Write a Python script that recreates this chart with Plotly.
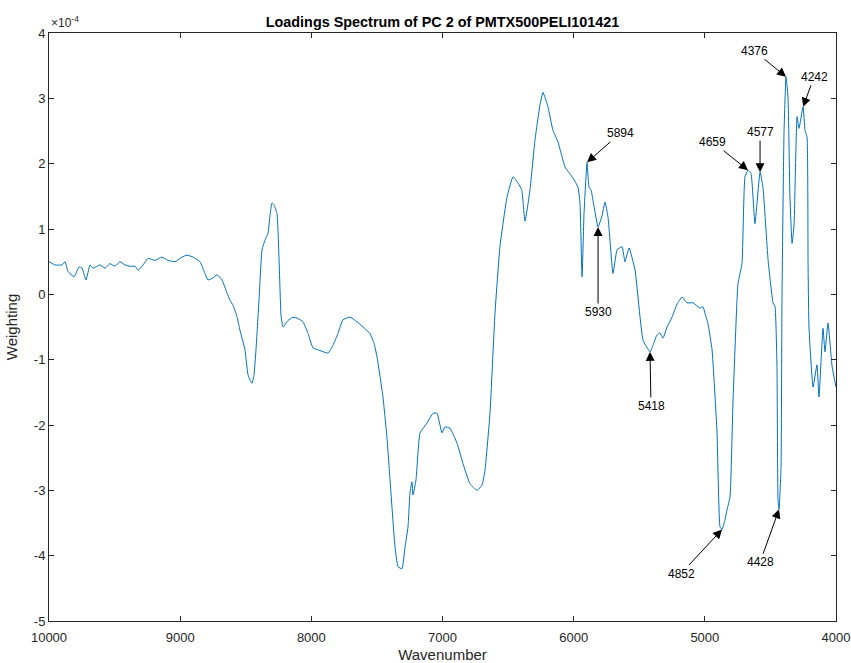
import plotly.graph_objects as go

# Wavenumber (cm-1) and PC2 loading weights (units of 1e-4)
wavenumber = [10000, 9954, 9901, 9878, 9855, 9809, 9771, 9748, 9718, 9687, 9665, 9611, 9573, 9535,
              9497, 9459, 9421, 9382, 9344, 9321, 9283, 9245, 9192, 9139, 9093, 9039, 8986, 8948,
              8902, 8849, 8811, 8788, 8750, 8719, 8681, 8643, 8620, 8597, 8567, 8544, 8506, 8483,
              8468, 8452, 8437, 8422, 8399, 8376, 8353, 8330, 8315, 8300, 8285, 8262, 8246, 8231,
              8216, 8178, 8140, 8102, 8064, 8025, 7987, 7934, 7873, 7835, 7797, 7759, 7705, 7652,
              7606, 7553, 7522, 7499, 7454, 7423, 7400, 7362, 7339, 7309, 7286, 7263, 7248, 7233,
              7225, 7202, 7171, 7118, 7072, 7042, 7004, 6981, 6943, 6889, 6844, 6790, 6737, 6699,
              6676, 6638, 6600, 6562, 6508, 6462, 6424, 6396, 6371, 6333, 6295, 6257, 6234, 6196,
              6158, 6119, 6066, 6005, 5967, 5952, 5936, 5921, 5898, 5883, 5868, 5845, 5814, 5784,
              5761, 5738, 5700, 5669, 5631, 5609, 5578, 5532, 5471, 5418, 5395, 5365, 5342, 5319,
              5288, 5250, 5212, 5174, 5136, 5090, 5037, 5014, 4999, 4976, 4945, 4907, 4884, 4869,
              4846, 4831, 4808, 4785, 4755, 4747, 4717, 4694, 4671, 4648, 4618, 4579, 4557, 4518,
              4480, 4465, 4450, 4442, 4434, 4419, 4412, 4396, 4381, 4366, 4351, 4335, 4320, 4297,
              4282, 4251, 4236, 4221, 4213, 4206, 4175, 4145, 4130, 4099, 4084, 4061, 4030, 4000]
weighting = [0.50, 0.45, 0.45, 0.50, 0.35, 0.27, 0.42, 0.40, 0.22, 0.45, 0.40, 0.45, 0.40, 0.47,
             0.43, 0.50, 0.45, 0.43, 0.43, 0.37, 0.45, 0.55, 0.52, 0.57, 0.52, 0.50, 0.57, 0.60,
             0.57, 0.50, 0.32, 0.22, 0.25, 0.30, 0.22, 0.02, -0.09, -0.17, -0.34, -0.55, -0.85, -1.23,
             -1.31, -1.36, -1.23, -0.85, -0.09, 0.68, 0.83, 0.94, 1.21, 1.40, 1.37, 1.24, 0.53, -0.32,
             -0.50, -0.40, -0.35, -0.37, -0.42, -0.60, -0.82, -0.86, -0.90, -0.78, -0.60, -0.39, -0.35, -0.42,
             -0.50, -0.60, -0.75, -0.96, -1.57, -2.20, -2.84, -3.87, -4.17, -4.20, -3.87, -3.56, -3.04, -2.87,
             -3.07, -2.84, -2.12, -1.97, -1.82, -1.82, -2.12, -2.03, -2.05, -2.28, -2.59, -2.90, -3.00, -2.92,
             -2.69, -1.82, -0.29, 0.73, 1.49, 1.80, 1.70, 1.60, 1.12, 1.60, 2.36, 2.90, 3.09, 2.87,
             2.51, 2.33, 1.95, 1.78, 1.64, 1.40, 0.27, 1.24, 2.02, 1.64, 1.60, 1.35, 1.03, 1.20,
             1.41, 1.18, 0.32, 0.68, 0.73, 0.50, 0.71, 0.37, -0.70, -0.88, -0.78, -0.62, -0.59, -0.67,
             -0.50, -0.35, -0.15, -0.04, -0.13, -0.13, -0.21, -0.19, -0.29, -0.45, -0.85, -2.12, -3.56, -3.60,
             -3.45, -3.30, -3.10, -1.62, -0.09, 0.17, 0.47, 1.80, 1.90, 1.85, 1.08, 1.87, 1.64, 0.53,
             -0.13, -0.19, -1.10, -3.15, -3.29, -2.64, -0.09, 2.51, 3.33, 3.02, 1.49, 0.78, 1.06, 2.72,
             2.54, 2.87, 2.51, 2.41, 0.47, -0.50, -1.42, -1.08, -1.57, -0.52, -0.88, -0.44, -1.10, -1.42]

# Peak annotations: label, arrow head (wavenumber, weight), text offset in px
peak_labels = ["5894", "5930", "5418", "4659", "4577", "4376", "4242", "4852", "4428"]
peak_x = [5898, 5814, 5418, 4671, 4579, 4381, 4251, 4869, 4434]
peak_y = [2.02, 1.03, -0.88, 1.90, 1.87, 3.33, 2.87, -3.60, -3.29]
label_dx = [33, 0, 1, -35, 0, -32, 11, -41, -19]
label_dy = [-29, 85, 54, -28, -40, -26, -30, 44, 53]

x_ticks = [10000, 9000, 8000, 7000, 6000, 5000, 4000]
x_tick_text = ["10000", "9000", "8000", "7000", "6000", "5000", "4000"]
y_ticks = [-5, -4, -3, -2, -1, 0, 1, 2, 3, 4]
y_tick_text = ["-5", "-4", "-3", "-2", "-1", "0", "1", "2", "3", "4"]

FONT = "Liberation Sans, Arial, Helvetica, sans-serif"
AX = "#262626"

fig = go.Figure()
fig.add_trace(go.Scatter(x=wavenumber, y=weighting, mode="lines",
                         line=dict(color="#0072BD", width=1, shape="spline", smoothing=0.4),
                         showlegend=False))

annotations = []
for lab, px, py, dx, dy in zip(peak_labels, peak_x, peak_y, label_dx, label_dy):
    annotations.append(dict(x=px, y=py, xref="x", yref="y", text=lab, showarrow=True,
                            ax=dx, ay=dy, arrowhead=2, arrowsize=1.8, arrowwidth=1,
                            arrowcolor="black", font=dict(family=FONT, size=12, color="black")))
annotations.append(dict(x=0, y=1, xref="paper", yref="paper", xanchor="left", yanchor="bottom",
                        text="×10<sup>-4</sup>", showarrow=False, yshift=1,
                        font=dict(family=FONT, size=12, color=AX)))

fig.update_layout(
    width=851, height=663,
    margin=dict(l=49, r=15, t=33, b=42, autoexpand=False),
    paper_bgcolor="white", plot_bgcolor="white",
    title=dict(text="<b>Loadings Spectrum of PC 2 of PMTX500PELI101421</b>",
               x=0.5, xref="paper", xanchor="center", y=1, yref="paper", yanchor="bottom",
               pad=dict(b=6), font=dict(family=FONT, size=14.4, color="black")),
    annotations=annotations,
    xaxis=dict(range=[10000, 4000], tickvals=x_ticks, ticktext=x_tick_text, ticks="inside", ticklen=5,
               tickcolor=AX, showline=True, linecolor=AX, linewidth=1, mirror="ticks",
               showgrid=False, zeroline=False, automargin=False, ticklabelstandoff=4,
               tickfont=dict(family=FONT, size=13, color=AX),
               title=dict(text="Wavenumber", standoff=5, font=dict(family=FONT, size=15, color=AX))),
    yaxis=dict(range=[-5, 4], tickvals=y_ticks, ticktext=y_tick_text, ticks="inside", ticklen=5,
               tickcolor=AX, showline=True, linecolor=AX, linewidth=1, mirror="ticks",
               showgrid=False, zeroline=False, automargin=False,
               tickfont=dict(family=FONT, size=13, color=AX),
               title=dict(text="Weighting", standoff=12, font=dict(family=FONT, size=15, color=AX))),
)

fig.write_html("out.html")
